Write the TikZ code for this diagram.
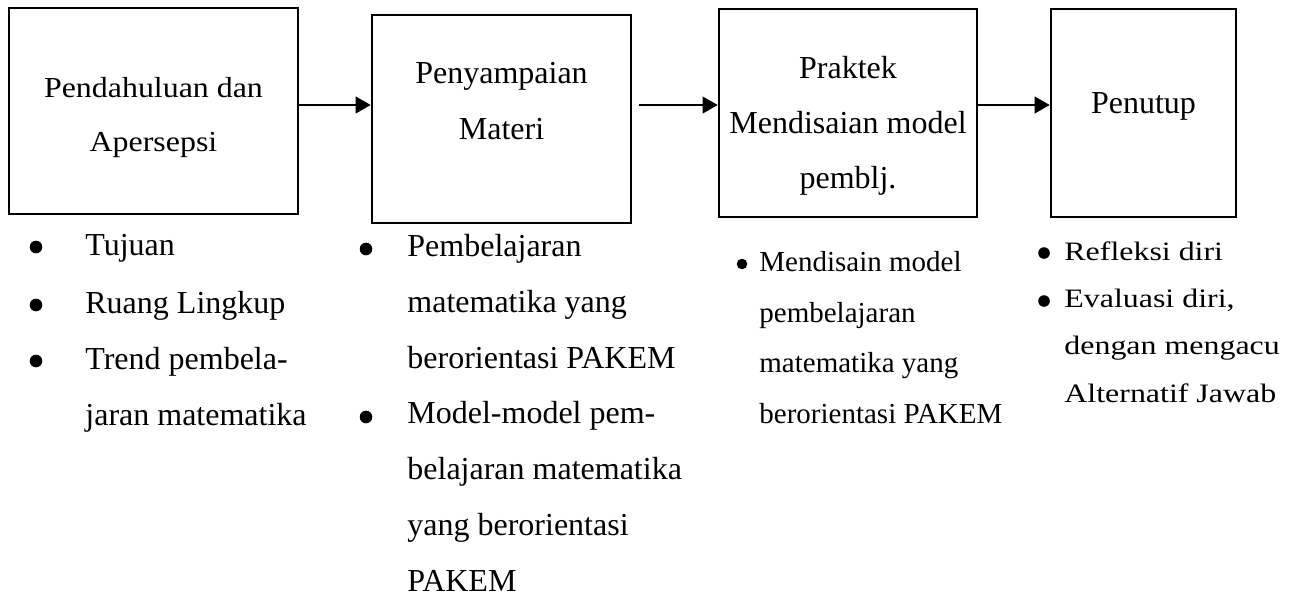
\documentclass[tikz,border=0pt]{standalone}
\usepackage{fontspec}
\setmainfont{Liberation Serif}
\newfontfamily\lebarA{Liberation Serif}[FakeStretch=1.1]
\newfontfamily\lebarB{Liberation Serif}[FakeStretch=1.2]
\usetikzlibrary{arrows.meta}

\begin{document}
\begin{tikzpicture}[x=0.5pt,y=-0.5pt,
  kotak/.style={draw,line width=1.3pt,inner sep=0pt},
  panah/.style={line width=1pt,-{Triangle[length=7.5pt,width=8.3pt]}},
  judul/.style={anchor=base,align=center,inner sep=0pt},
  butir/.style={anchor=base west,align=left,inner sep=0pt},
  titik/.style={circle,fill,inner sep=0pt,outer sep=0pt,minimum size=#1}]
\useasboundingbox[fill=white] (0,0) rectangle (1297,596);
% Kotak
\node[kotak,minimum width=144.5pt,minimum height=103pt] (pendahuluan) at (153.5,111) {};
\node[kotak,minimum width=129.5pt,minimum height=104pt] (penyampaian) at (501.5,119) {};
\node[kotak,minimum width=129pt,minimum height=104pt] (praktek) at (848,113) {};
\node[kotak,minimum width=92.5pt,minimum height=104pt] (penutup) at (1143.5,113) {};
% Isi kotak (titik acuan = baris terakhir)
\node[judul,font=\lebarA\fontsize{14.5}{27}\selectfont] (tpendahuluan) at (153.5,151) {Pendahuluan dan\\Apersepsi};
\node[judul,font=\fontsize{16}{28}\selectfont] (tpenyampaian) at (501.5,139) {Penyampaian\\Materi};
\node[judul,font=\fontsize{16}{27.5}\selectfont] (tpraktek) at (848,188) {Praktek\\Mendisaian model\\pemblj.};
\node[judul,font=\fontsize{16}{28}\selectfont] (tpenutup) at (1143.5,113) {Penutup};
% Panah
\draw[panah] (pendahuluan.east |- 0,105) -- (penyampaian.west |- 0,105);
\draw[panah] ([xshift=3.5pt]penyampaian.east |- 0,105) -- (praktek.west |- 0,105);
\draw[panah] (praktek.east |- 0,105) -- (penutup.west |- 0,105);
% Butir 1
\node[titik=6.3pt] (ta1) at (36,247) {};
\node[titik=6.3pt] (ta2) at (36,305) {};
\node[titik=6.3pt] (ta3) at (36,361) {};
\node[butir,font=\fontsize{16}{28.3}\selectfont] (tujuan) at (85,255) {Tujuan};
\node[butir,font=\fontsize{16}{28.3}\selectfont] (ruang) at (85,313) {Ruang Lingkup};
\node[butir,font=\fontsize{16}{28}\selectfont] (trend) at (85,425) {Trend pembela-\\jaran matematika};
% Butir 2
\node[titik=6.3pt] (tb1) at (366,249) {};
\node[titik=6.3pt] (tb2) at (366,417) {};
\node[butir,font=\fontsize{16}{27.85}\selectfont] (pembelajaran) at (407,368) {Pembelajaran\\matematika yang\\berorientasi PAKEM};
\node[butir,font=\fontsize{16}{27.85}\selectfont] (model) at (407,591) {Model-model pem-\\belajaran matematika\\yang berorientasi\\PAKEM};
% Butir 3
\node[titik=5.3pt] (tc1) at (742,264) {};
\node[butir,font=\fontsize{14.5}{25.25}\selectfont] (mendisain) at (759,423) {Mendisain model\\pembelajaran\\matematika yang\\berorientasi PAKEM};
% Butir 4
\node[titik=5.8pt] (td1) at (1044,253) {};
\node[titik=5.8pt] (td2) at (1044,301) {};
\node[butir,font=\lebarB\fontsize{13.3}{23.7}\selectfont] (refleksi) at (1064,260) {Refleksi diri};
\node[butir,font=\lebarB\fontsize{13.3}{23.7}\selectfont] (evaluasi) at (1064,402) {Evaluasi diri,\\dengan mengacu\\Alternatif Jawab};
\end{tikzpicture}
\end{document}
